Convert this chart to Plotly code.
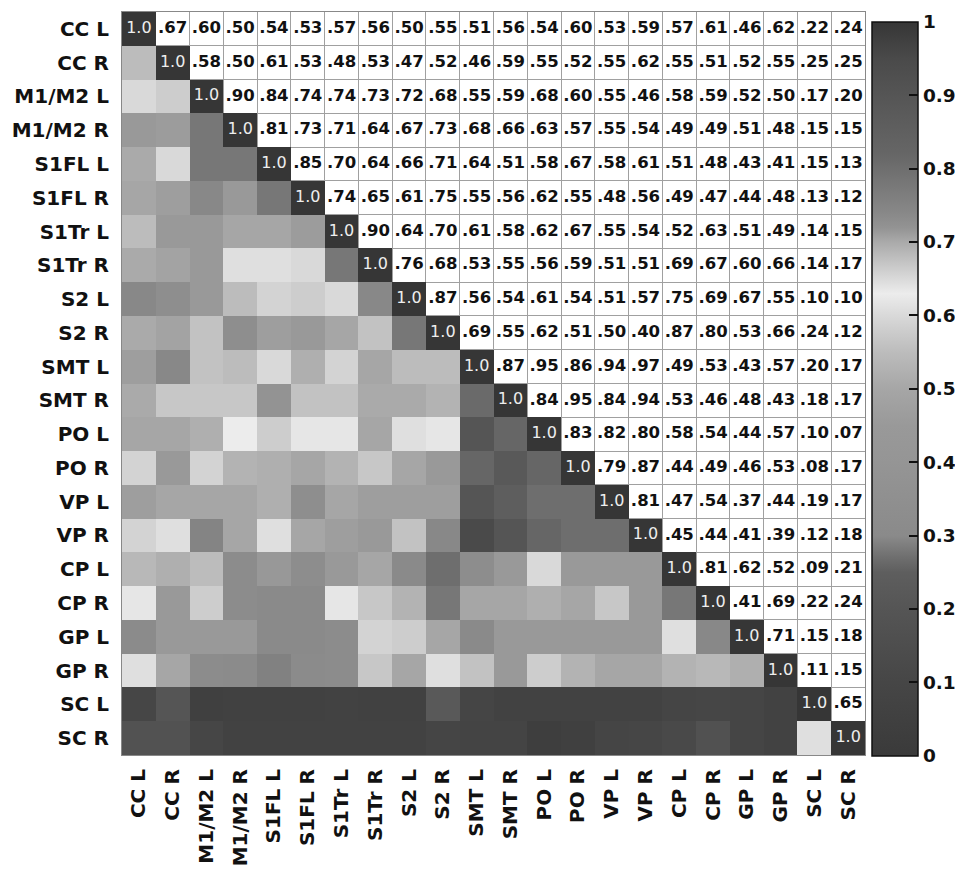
import plotly.graph_objects as go

labels = ["CC L", "CC R", "M1/M2 L", "M1/M2 R", "S1FL L", "S1FL R", "S1Tr L", "S1Tr R",
          "S2 L", "S2 R", "SMT L", "SMT R", "PO L", "PO R", "VP L", "VP R",
          "CP L", "CP R", "GP L", "GP R", "SC L", "SC R"]

# upper triangle values (row i, columns i+1 .. 21)
upper = [
    [.67, .60, .50, .54, .53, .57, .56, .50, .55, .51, .56, .54, .60, .53, .59, .57, .61, .46, .62, .22, .24],
    [.58, .50, .61, .53, .48, .53, .47, .52, .46, .59, .55, .52, .55, .62, .55, .51, .52, .55, .25, .25],
    [.90, .84, .74, .74, .73, .72, .68, .55, .59, .68, .60, .55, .46, .58, .59, .52, .50, .17, .20],
    [.81, .73, .71, .64, .67, .73, .68, .66, .63, .57, .55, .54, .49, .49, .51, .48, .15, .15],
    [.85, .70, .64, .66, .71, .64, .51, .58, .67, .58, .61, .51, .48, .43, .41, .15, .13],
    [.74, .65, .61, .75, .55, .56, .62, .55, .48, .56, .49, .47, .44, .48, .13, .12],
    [.90, .64, .70, .61, .58, .62, .67, .55, .54, .52, .63, .51, .49, .14, .15],
    [.76, .68, .53, .55, .56, .59, .51, .51, .69, .67, .60, .66, .14, .17],
    [.87, .56, .54, .61, .54, .51, .57, .75, .69, .67, .55, .10, .10],
    [.69, .55, .62, .51, .50, .40, .87, .80, .53, .66, .24, .12],
    [.87, .95, .86, .94, .97, .49, .53, .43, .57, .20, .17],
    [.84, .95, .84, .94, .53, .46, .48, .43, .18, .17],
    [.83, .82, .80, .58, .54, .44, .57, .10, .07],
    [.79, .87, .44, .49, .46, .53, .08, .17],
    [.81, .47, .54, .37, .44, .19, .17],
    [.45, .44, .41, .39, .12, .18],
    [.81, .62, .52, .09, .21],
    [.41, .69, .22, .24],
    [.71, .15, .18],
    [.11, .15],
    [.65],
    [],
]

# lower triangle values (row i, columns 0 .. i-1), estimated from the grey shades
lower = [
    [],
    [0.55],
    [0.60, 0.58],
    [0.45, 0.46, 0.78],
    [0.51, 0.60, 0.78, 0.78],
    [0.50, 0.47, 0.74, 0.45, 0.78],
    [0.55, 0.45, 0.45, 0.50, 0.50, 0.46],
    [0.51, 0.49, 0.45, 0.61, 0.61, 0.60, 0.78],
    [0.74, 0.73, 0.45, 0.55, 0.59, 0.58, 0.60, 0.74],
    [0.51, 0.49, 0.56, 0.73, 0.47, 0.45, 0.50, 0.56, 0.78],
    [0.47, 0.74, 0.56, 0.55, 0.60, 0.52, 0.59, 0.50, 0.55, 0.55],
    [0.51, 0.57, 0.57, 0.57, 0.72, 0.56, 0.56, 0.51, 0.51, 0.53, 0.81],
    [0.50, 0.50, 0.52, 0.63, 0.58, 0.62, 0.62, 0.50, 0.61, 0.62, 0.90, 0.82],
    [0.59, 0.45, 0.59, 0.53, 0.52, 0.50, 0.53, 0.57, 0.50, 0.45, 0.82, 0.88, 0.82],
    [0.47, 0.50, 0.50, 0.50, 0.52, 0.73, 0.50, 0.47, 0.47, 0.47, 0.90, 0.86, 0.80, 0.80],
    [0.59, 0.61, 0.75, 0.50, 0.61, 0.50, 0.47, 0.45, 0.56, 0.74, 0.95, 0.90, 0.82, 0.80, 0.80],
    [0.54, 0.52, 0.55, 0.32, 0.44, 0.33, 0.45, 0.50, 0.30, 0.27, 0.33, 0.45, 0.60, 0.45, 0.45, 0.45],
    [0.62, 0.45, 0.58, 0.32, 0.30, 0.30, 0.62, 0.57, 0.53, 0.28, 0.50, 0.50, 0.52, 0.50, 0.57, 0.45, 0.78],
    [0.31, 0.45, 0.45, 0.45, 0.30, 0.30, 0.32, 0.59, 0.58, 0.50, 0.30, 0.45, 0.45, 0.45, 0.45, 0.45, 0.61, 0.74],
    [0.61, 0.50, 0.32, 0.31, 0.29, 0.31, 0.32, 0.57, 0.50, 0.61, 0.56, 0.45, 0.58, 0.53, 0.50, 0.50, 0.53, 0.54, 0.52],
    [0.10, 0.20, 0.05, 0.06, 0.06, 0.06, 0.07, 0.06, 0.06, 0.22, 0.09, 0.07, 0.07, 0.07, 0.07, 0.07, 0.09, 0.10, 0.09, 0.07],
    [0.18, 0.18, 0.10, 0.07, 0.07, 0.07, 0.07, 0.07, 0.07, 0.09, 0.08, 0.08, 0.03, 0.05, 0.09, 0.10, 0.12, 0.17, 0.09, 0.07, 0.61],
]

diag_value = 1.0
cbar_ticks = [0, 0.1, 0.2, 0.3, 0.4, 0.5, 0.6, 0.7, 0.8, 0.9, 1]

n = len(labels)
z = []
for i in range(n):
    row = []
    for j in range(n):
        if j < i:
            row.append(lower[i][j])
        elif j == i:
            row.append(diag_value)
        else:
            row.append(None)
    z.append(row)

colorscale = [
    [0.00, "#3a3a3a"], [0.05, "#404040"], [0.10, "#464646"], [0.20, "#555555"],
    [0.25, "#5e5e5e"], [0.27, "#6e6e6e"], [0.30, "#8a8a8a"], [0.40, "#959595"],
    [0.45, "#999999"], [0.50, "#a6a6a6"], [0.55, "#bcbcbc"], [0.58, "#cdcdcd"],
    [0.60, "#d9d9d9"], [0.63, "#ececec"], [0.66, "#d0d0d0"], [0.70, "#aaaaaa"],
    [0.72, "#939393"], [0.74, "#888888"], [0.78, "#777777"], [0.82, "#666666"],
    [0.90, "#555555"], [0.95, "#4a4a4a"], [1.00, "#363636"],
]

FONT = "DejaVu Sans, Liberation Sans, Arial, sans-serif"

fig = go.Figure()
fig.add_trace(go.Heatmap(
    x=labels, y=labels, z=z, zmin=0, zmax=1, colorscale=colorscale,
    hoverinfo="skip", xgap=0, ygap=0,
    colorbar=dict(
        x=1.0094, xanchor="left", xref="paper", y=-0.001, yanchor="bottom",
        len=0.988, lenmode="fraction", thickness=46, outlinewidth=1.5,
        outlinecolor="#111", tickmode="array", tickvals=cbar_ticks,
        ticks="inside", ticklen=9, tickwidth=2, tickcolor="#111", ypad=0, xpad=0,
        ticklabeloverflow="allow",
        tickfont=dict(family=FONT, size=18.5, color="#111", weight="bold"),
    ),
))

# upper triangle text
ux, uy, ut = [], [], []
for i in range(n):
    for k, v in enumerate(upper[i]):
        j = i + 1 + k
        ux.append(labels[j])
        uy.append(labels[i])
        ut.append(("%.2f" % v)[1:])
fig.add_trace(go.Scatter(
    x=ux, y=uy, text=ut, mode="text", hoverinfo="skip", showlegend=False,
    textfont=dict(family=FONT, size=16.5, color="#111", weight="bold"),
))

# diagonal text
fig.add_trace(go.Scatter(
    x=labels, y=labels, text=["%.1f" % diag_value] * n, mode="text",
    hoverinfo="skip", showlegend=False,
    textfont=dict(family=FONT, size=16, color="#eeeeee"),
))

axis_common = dict(
    type="category", tickson="boundaries", showgrid=True, gridcolor="#a0a0a0",
    gridwidth=1, ticks="", zeroline=False, showline=True, mirror=True,
    linecolor="#888", linewidth=1, automargin=False,
    tickfont=dict(family=FONT, size=20, color="#111", weight="bold"),
)
fig.update_xaxes(categoryorder="array", categoryarray=labels, tickangle=-90,
                 range=[-0.5, n - 0.5], ticklabelstandoff=5, **axis_common)
fig.update_yaxes(categoryorder="array", categoryarray=labels,
                 range=[n - 0.5, -0.5], ticklabelstandoff=8, **axis_common)

# the page body adds an 8px offset at the top-left
fig.update_layout(
    width=955, height=861,
    margin=dict(l=114, r=98, t=4, b=114, autoexpand=False),
    plot_bgcolor="white", paper_bgcolor="white",
    showlegend=False,
)

fig.write_html("out.html")
